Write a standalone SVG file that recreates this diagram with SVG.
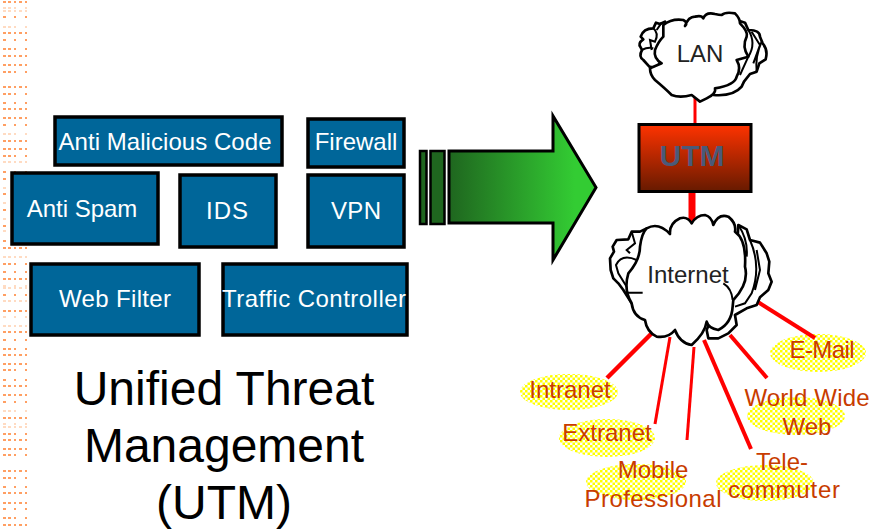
<svg xmlns="http://www.w3.org/2000/svg" width="874" height="530" viewBox="0 0 874 530">
<style>
text{font-family:"Liberation Sans",Arial,sans-serif}
.box{fill:#006699;stroke:#000;stroke-width:3.5}
.bt{fill:#fff;font-size:24px;text-anchor:middle}
.lb{fill:#c83c00;font-size:24px;text-anchor:middle}
.cl{fill:#fff;stroke:#000;stroke-width:8;stroke-linejoin:round}
.cli{fill:none;stroke:#000;stroke-width:6}
.cn{fill:#222;font-size:24px;text-anchor:middle}
.conn{stroke:#f00;fill:none}
.bl{fill:url(#dither)}
.dA,.dB,.dC,.fA,.fB,.fC{fill:none;stroke-width:1.6}
.dA,.dB,.dC{stroke:#ff8030}
.fA,.fB,.fC{stroke:#ffcfae}
.dA,.fA{stroke-dasharray:3 2 3 3 2 3 3 3 2 100}
.dB,.fB{stroke-dasharray:3 2 3 3 2 9 2 100}
.dC,.fC{stroke-dasharray:3 8 2 9 2 100}
.bar{fill:#1f661f;stroke:#000;stroke-width:2.5}
</style>
<defs>
<pattern id="dither" width="5" height="5" patternUnits="userSpaceOnUse">
<rect width="2.500" height="2.500" fill="#ffff00"/><rect x="2.500" y="2.500" width="2.500" height="2.500" fill="#ffff00"/>
</pattern>
<linearGradient id="gUtm" x1="0" y1="0" x2="0" y2="1"><stop offset="0" stop-color="#ff3300"/><stop offset="1" stop-color="#661a00"/></linearGradient>
<linearGradient id="gArrow" gradientUnits="userSpaceOnUse" x1="449" y1="0" x2="575" y2="0"><stop offset="0" stop-color="#1f661f"/><stop offset="1" stop-color="#33cc33"/></linearGradient>
</defs>
<rect width="874" height="530" fill="#fff"/>
<g id="dots">
<path class="dA" d="M3 2h24M3 33h24M3 56h24M3 65h24M3 87h24M3 109h24M3 118h24M3 141h24M3 149h24M3 248h24M3 279h24M3 311h24M3 332h24M3 355h24M3 364h24M3 386h24M3 395h24M3 418h24M3 440h24M3 449h24M3 471h24M3 493h24M3 503h24M3 525h24"/>
<path class="dB" d="M3 49h24M3 72h24M3 94h24M3 156h24M3 264h24M3 349h24M3 370h24M3 434h24M3 455h24M3 478h24M3 518h24"/>
<path class="dC" d="M3 17h24M3 40h24M3 103h24M3 125h24M3 272h24M3 295h24M3 340h24M3 380h24M3 402h24M3 487h24M3 509h24M3 172h24M3 179h24M3 194h24M3 210h24M3 226h24M3 241h24"/>
<path class="fA" d="M3 11h24M3 162h24M3 257h24M3 288h24M3 301h24M3 326h24M3 427h24"/>
<path class="fB" d="M3 8h24M3 27h24M3 134h24M3 411h24"/>
<path class="fC" d="M3 188h24M3 203h24M3 219h24M3 231h24M3 286h24M3 317h24M3 424h24"/>
</g>
<g id="blobs">
<ellipse class="bl" cx="569" cy="392" rx="49" ry="18"/>
<ellipse class="bl" cx="607" cy="438" rx="48" ry="19"/>
<ellipse class="bl" cx="636" cy="482" rx="50" ry="18"/>
<ellipse class="bl" cx="765" cy="483" rx="49" ry="18"/>
<ellipse class="bl" cx="796" cy="416" rx="49" ry="19"/>
<ellipse class="bl" cx="818" cy="353" rx="48" ry="19"/>
</g>
<g id="connectors">
<path class="conn" stroke-width="3" d="M695 98V124"/>
<path class="conn" stroke-width="7" d="M692 192V224"/>
<path class="conn" stroke-width="4.500" d="M652 333L607 378"/>
<path class="conn" stroke-width="3" d="M670 337L655 424"/>
<path class="conn" stroke-width="3" d="M694 347L687 440"/>
<path class="conn" stroke-width="4" d="M704 340L751 449"/>
<path class="conn" stroke-width="4" d="M730 335L767 378"/>
<path class="conn" stroke-width="4" d="M758 302L815 338"/>
</g>
<g id="anti-malicious-code"><rect class="box" x="55" y="117" width="227" height="48"/><text class="bt" x="165" y="150" textLength="213">Anti Malicious Code</text></g>
<g id="firewall"><rect class="box" x="308" y="119" width="96" height="48"/><text class="bt" x="356" y="150">Firewall</text></g>
<g id="anti-spam"><rect class="box" x="12" y="173" width="146" height="71"/><text class="bt" x="82" y="217">Anti Spam</text></g>
<g id="ids"><rect class="box" x="180" y="175" width="96" height="72"/><text class="bt" x="227" y="219" textLength="42">IDS</text></g>
<g id="vpn"><rect class="box" x="308" y="175" width="96" height="72"/><text class="bt" x="356" y="219" textLength="50">VPN</text></g>
<g id="web-filter"><rect class="box" x="31" y="264" width="168" height="71"/><text class="bt" x="115" y="307" textLength="112">Web Filter</text></g>
<g id="traffic-controller"><rect class="box" x="223" y="264" width="184" height="71"/><text class="bt" x="314" y="307" textLength="184">Traffic Controller</text></g>
<g id="arrow">
<rect class="bar" x="420" y="151" width="6.500" height="73"/>
<rect class="bar" x="430.500" y="151" width="14" height="73"/>
<path d="M449 151H553V116L596 187.500L553 260V223H449Z" fill="url(#gArrow)" stroke="#000" stroke-width="3"/>
</g>
<g id="title" font-size="48" text-anchor="middle" fill="#000">
<text x="224" y="405">Unified Threat</text>
<text x="224" y="462">Management</text>
<text x="224" y="519">(UTM)</text>
</g>
<g id="lan">
<g transform="translate(600 0) scale(.3333)">
<path class="cl" d="M195 65L180 72L168 68L160 85Q130 85 122 110L130 118Q112 130 122 142L126 150Q115 170 130 180L148 200L170 205L200 150Z"/>
<path class="cli" d="M160 85Q178 100 165 125L150 120L155 150M125 150Q145 140 160 145M185 68L170 90"/>
<path class="cl" d="M410 60L435 68L445 90Q480 90 480 110L488 130Q505 150 497 178L478 190L470 215L450 222L432 245L425 260Q400 290 340 285L345 260L430 120Z"/>
<path class="cli" d="M445 90Q470 130 445 170L420 225M470 215Q465 170 485 125M455 95L480 135L460 190"/>
<path class="cl" d="M190 75Q215 55 250 60Q265 68 255 78Q265 50 285 50Q305 45 310 55Q318 35 345 42Q358 45 365 45Q375 35 405 40Q420 55 420 70Q445 95 440 110Q425 140 445 170L410 180Q425 205 410 230Q405 255 345 265Q350 280 320 295L300 305L275 285Q240 295 215 285Q195 265 165 240Q150 225 150 205L185 190Q160 175 165 150Q175 125 190 110Z"/>
</g>
<text class="cn" x="700" y="62">LAN</text>
</g>
<g id="utm">
<rect x="639" y="124.500" width="112" height="67" fill="url(#gUtm)" stroke="#000" stroke-width="3"/>
<text x="692" y="166" font-size="30" font-weight="bold" fill="#4a5a78" text-anchor="middle">UTM</text>
</g>
<g id="internet">
<g transform="translate(590 190) scale(.3333)">
<path class="cl" d="M170 115L150 125L125 125L115 148L80 150L68 170L72 185L60 205L62 240L70 265L85 280L100 300L125 340L200 200Z"/>
<path class="cli" d="M140 210Q95 190 78 225L85 250L110 290M125 125L135 160L110 180L120 190"/>
<path class="cl" d="M445 105L470 118L480 150L510 158L530 190L538 215L535 250L545 275L535 300L510 322L500 345L470 355L435 375L440 405L415 430L385 445L355 445L350 420L440 200Z"/>
<path class="cli" d="M480 150Q515 230 485 310L465 340L435 350M445 105Q475 150 470 200M500 180L510 240L495 300"/>
<path class="cl" d="M170 115Q205 95 240 132Q238 100 270 85Q292 78 305 100Q320 75 345 75Q365 80 370 105Q385 70 415 80Q440 100 435 125Q470 150 465 230Q478 280 430 330L428 350Q425 400 385 420Q355 415 350 395Q345 430 305 465Q270 460 255 420Q235 445 200 440Q170 425 165 390Q130 380 125 340Q100 300 115 250Q150 210 150 170Q155 130 170 115Z"/>
<path class="cli" d="M400 280Q425 295 428 330M112 308H158"/>
</g>
<text class="cn" x="688" y="283">Internet</text>
</g>
<g id="intranet"><text class="lb" x="570" y="398">Intranet</text></g>
<g id="extranet"><text class="lb" x="607" y="441">Extranet</text></g>
<g id="mobile"><text class="lb" x="653" y="478">Mobile</text><text class="lb" x="653" y="507" textLength="137">Professional</text></g>
<g id="telecommuter"><text class="lb" x="782" y="470">Tele-</text><text class="lb" x="784" y="498" textLength="112">commuter</text></g>
<g id="www"><text class="lb" x="807" y="406" textLength="125">World Wide</text><text class="lb" x="807" y="435">Web</text></g>
<g id="email"><text class="lb" x="822" y="358" textLength="65">E-Mail</text></g>
</svg>
